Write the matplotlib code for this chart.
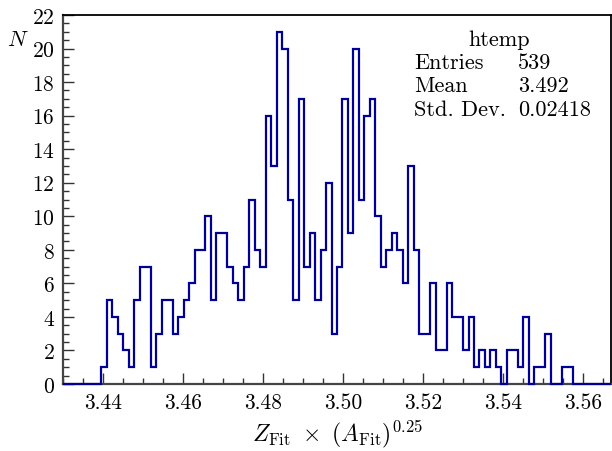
import numpy as np
import matplotlib
matplotlib.use("Agg")
import matplotlib.pyplot as plt
from matplotlib.ticker import MultipleLocator

plt.rcParams['font.family'] = ['cmr10', 'DejaVu Serif']
plt.rcParams['mathtext.fontset'] = 'cm'
plt.rcParams['axes.formatter.use_mathtext'] = True

# histogram "htemp": 100 bins
x_min = 3.43
x_max = 3.567
counts = [
    0, 0, 0, 0, 0, 0, 0, 1, 5, 4,
    3, 2, 1, 5, 7, 7, 1, 3, 5, 5,
    3, 4, 5, 6, 8, 8, 10, 5, 9, 9,
    7, 6, 5, 7, 11, 8, 7, 16, 13, 21,
    20, 11, 5, 17, 7, 9, 5, 8, 12, 3,
    7, 17, 9, 20, 11, 16, 17, 10, 7, 8,
    9, 8, 6, 13, 8, 3, 3, 6, 2, 2,
    6, 4, 4, 2, 4, 1, 2, 1, 2, 1,
    0, 2, 2, 1, 4, 0, 1, 1, 3, 0,
    0, 1, 1, 0, 0, 0, 0, 0, 0, 0,
]
stat_names = ['Entries', 'Mean', 'Std. Dev.']
stat_values = ['539', '3.492', '0.02418']

edges = np.linspace(x_min, x_max, len(counts) + 1)

fig = plt.figure(figsize=(6.12, 4.52), dpi=100)
ax = fig.add_axes([63 / 612, 1 - 385 / 452, 548 / 612, 369 / 452])

ax.stairs(counts, edges, color='#000099', lw=1.6, zorder=3, clip_on=False)

ax.set_xlim(x_min, x_max)
ax.set_ylim(0, 22)
ax.xaxis.set_major_locator(MultipleLocator(0.02))
ax.xaxis.set_minor_locator(MultipleLocator(0.005))
ax.yaxis.set_major_locator(MultipleLocator(2))
ax.yaxis.set_minor_locator(MultipleLocator(0.5))
ax.xaxis.set_major_formatter(plt.FormatStrFormatter('%.2f'))

ax.tick_params(which='both', direction='in', top=False, right=False,
               labelsize=15.5, color='#333333', width=1)
ax.tick_params(which='major', length=8)
ax.tick_params(which='minor', length=4.5)
ax.tick_params(axis='x', pad=6)
ax.tick_params(axis='y', pad=6)

for side in ['left', 'bottom']:
    ax.spines[side].set_linewidth(1.6)
    ax.spines[side].set_color('#444444')
for side in ['top', 'right']:
    ax.spines[side].set_linewidth(1.3)
    ax.spines[side].set_color('black')

ax.set_xlabel(r'$Z_{\rm Fit}\ \times\ (A_{\rm Fit})^{0.25}$', fontsize=17, labelpad=4)
fig.text(18 / 612, 1 - 40 / 452, r'$N$', fontsize=16, ha='center', va='center')

# stats box
fig.text(499 / 612, 1 - 40 / 452, 'htemp', fontsize=16, ha='center', va='center')
for i, (name, val) in enumerate(zip(stat_names, stat_values)):
    y = 1 - (63 + 23.5 * i) / 452
    fig.text(414 / 612, y, name, fontsize=16, ha='left', va='center')
    fig.text(518 / 612, y, val, fontsize=16, ha='left', va='center')

fig.savefig('out.png', dpi=100)
